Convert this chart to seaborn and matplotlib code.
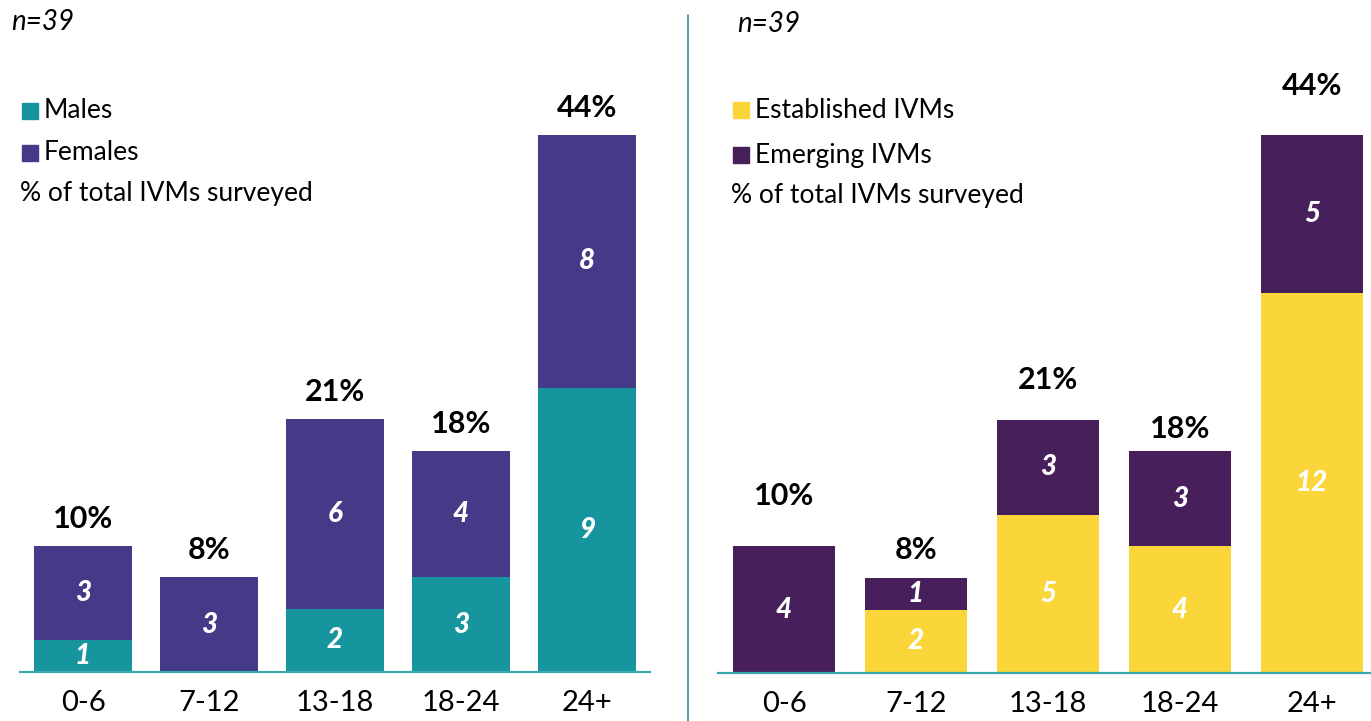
import matplotlib
matplotlib.use("Agg")
import matplotlib.pyplot as plt
from matplotlib.patches import Rectangle
import pandas as pd
import seaborn as sns

# data
age_groups = ["0-6", "7-12", "13-18", "18-24", "24+"]
males = [1, 0, 2, 3, 9]
females = [3, 3, 6, 4, 8]
established = [0, 2, 5, 4, 12]
emerging = [4, 1, 3, 3, 5]
pct_labels = ["10%", "8%", "21%", "18%", "44%"]

TEAL = "#17959e"
PURPLE = "#443a88"
YELLOW = "#fbd63a"
DARK_PURPLE = "#471f5a"
LINE_TEAL = "#3aa9ae"

W, H = 1371, 721
sns.set_theme(style="white")
plt.rcParams["font.family"] = ["Lato", "DejaVu Sans"]

fig = plt.figure(figsize=(W / 100, H / 100), dpi=100)
fig.patch.set_facecolor("white")


def fx(x):
    return x / W


def fy(y):
    return 1 - y / H


def draw_panel(ax, bottom_vals, top_vals, bottom_color, top_color, pct_offsets):
    totals = [b + t for b, t in zip(bottom_vals, top_vals)]
    df = pd.DataFrame({"age": age_groups, "bottom": bottom_vals, "total": totals})
    sns.barplot(data=df, x="age", y="total", order=age_groups, color=top_color,
                saturation=1, width=0.77, ax=ax, linewidth=0)
    sns.barplot(data=df, x="age", y="bottom", order=age_groups, color=bottom_color,
                saturation=1, width=0.77, ax=ax, linewidth=0)
    ax.set_xlim(-0.5, 4.5)
    ax.set_ylim(0, 672 / 31.6)
    ax.set_xlabel("")
    ax.set_ylabel("")
    ax.set_yticks([])
    for s in ["top", "left", "right"]:
        ax.spines[s].set_visible(False)
    ax.spines["bottom"].set_color(LINE_TEAL)
    ax.spines["bottom"].set_linewidth(1.6)
    ax.tick_params(axis="x", length=0, pad=13, labelsize=21, colors="black")
    ax.patch.set_alpha(0)

    for i, (b, t) in enumerate(zip(bottom_vals, top_vals)):
        if b > 0:
            ax.text(i, b / 2, str(b), ha="center", va="center", color="white",
                    fontsize=20, fontweight="black", fontstyle="italic")
        if t > 0:
            ax.text(i, b + t / 2, str(t), ha="center", va="center", color="white",
                    fontsize=20, fontweight="black", fontstyle="italic")
        ax.text(i, b + t + pct_offsets[i], pct_labels[i], ha="center", va="center",
                color="black", fontsize=22, fontweight="bold")


ax1 = fig.add_axes([fx(20), fy(672), fx(630), 672 / H])
draw_panel(ax1, males, females, TEAL, PURPLE, [0.85] * 5)

ax2 = fig.add_axes([fx(718), fy(673), fx(660), 673 / H])
draw_panel(ax2, established, emerging, YELLOW, DARK_PURPLE, [1.6, 0.9, 1.25, 0.7, 1.55])

# divider
fig.add_artist(plt.Line2D([fx(688), fx(688)], [fy(15), 0], color="#2e8f97",
                          linewidth=1.2, transform=fig.transFigure))


def legend(x, y_rows, items, note):
    for (label, color), y in zip(items, y_rows):
        fig.add_artist(Rectangle((fx(x), fy(y + 8)), fx(16), 16 / H, color=color,
                                 transform=fig.transFigure))
        fig.text(fx(x + 22), fy(y), label, ha="left", va="center", fontsize=19,
                 color="black")
    fig.text(fx(x - 2), fy(y_rows[-1] + 41), note, ha="left", va="center",
             fontsize=19, color="black")


fig.text(fx(11), fy(22), "n=39", ha="left", va="center", fontsize=20,
         fontstyle="italic", color="black")
fig.text(fx(737), fy(24), "n=39", ha="left", va="center", fontsize=20,
         fontstyle="italic", color="black")

legend(22, [111, 153], [("Males", TEAL), ("Females", PURPLE)],
       "% of total IVMs surveyed")
legend(733, [110, 155], [("Established IVMs", YELLOW), ("Emerging IVMs", DARK_PURPLE)],
       "% of total IVMs surveyed")

fig.savefig("out.png", dpi=100)
